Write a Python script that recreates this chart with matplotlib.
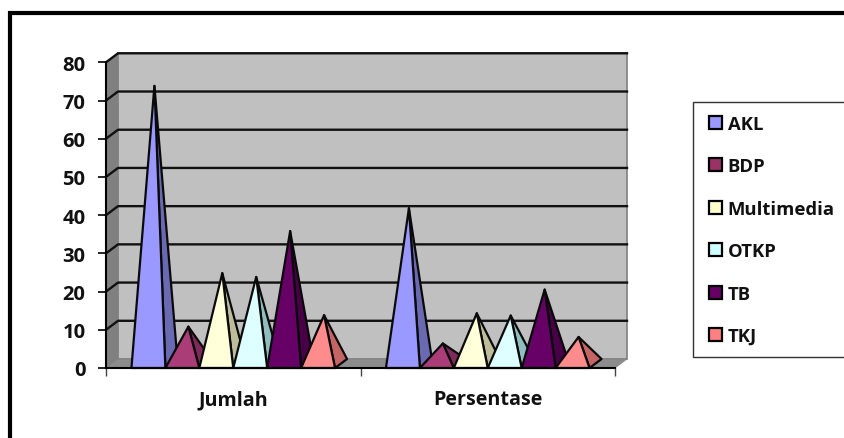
import matplotlib
matplotlib.use("Agg")
import matplotlib.pyplot as plt
from matplotlib.patches import Polygon, Rectangle

categories = ["Jumlah", "Persentase"]
series_names = ["AKL", "BDP", "Multimedia", "OTKP", "TB", "TKJ"]
akl = [73, 41.0]
bdp = [10, 5.6]
multimedia = [24, 13.5]
otkp = [23, 12.9]
tb = [35, 19.7]
tkj = [13, 7.3]
series_values = [akl, bdp, multimedia, otkp, tb, tkj]
front_colors = ["#9999FF", "#AA3D78", "#FFFFD9", "#DDFFFF", "#660066", "#FF8C8C"]
side_colors = ["#6A6AB2", "#7F2A5A", "#BDBD9C", "#90BDBD", "#470047", "#C46464"]
legend_colors = ["#9999FF", "#993366", "#FFFFCC", "#CCFFFF", "#660066", "#FF8080"]
yticks = [0, 10, 20, 30, 40, 50, 60, 70, 80]

W, H = 845, 439
FONT = ["Open Sans", "DejaVu Sans"]
fig = plt.figure(figsize=(W / 100, H / 100), dpi=100, facecolor="white")

# page frame (left and top heavy border)
bg = fig.add_axes([0, 0, 1, 1])
bg.set_xlim(0, W); bg.set_ylim(H, 0); bg.axis("off")
bg.plot([10, 10, W], [H, 14, 14], color="black", lw=3, solid_joinstyle="miter")

# front plane of the 3-D box
x0, x1, y_top, y_bot = 106, 615, 63.3, 369
ax = fig.add_axes([x0 / W, 1 - y_bot / H, (x1 - x0) / W, (y_bot - y_top) / H])
ax.set_xlim(0, 2); ax.set_ylim(0, 80)
ax.patch.set_alpha(0)
dx = 12 / ((x1 - x0) / 2)
dy = 9 / ((y_bot - y_top) / 80)
clip = dict(clip_on=False)

# walls
ax.add_patch(Rectangle((dx, dy), 2, 80, fc="#C0C0C0", ec="#808080", lw=1.2, zorder=1, **clip))
ax.add_patch(Polygon([(0, 0), (dx, dy), (dx, 80 + dy), (0, 80)], fc="#808080", ec="#808080", lw=0.5, zorder=1, **clip))
ax.add_patch(Polygon([(0, 0), (2, 0), (2 + dx, dy), (dx, dy)], fc="#8C8C8C", ec="#808080", lw=0.5, zorder=1, **clip))
for v in yticks[1:]:
    ax.plot([0, dx, 2 + dx], [v, v + dy, v + dy], color="#111111", lw=1.7, zorder=2, **clip)

# pyramids
bw = 0.8 / 6
for c in range(len(categories)):
    for s, vals in enumerate(series_values):
        xl = c + 0.1 + s * bw
        xr = xl + bw
        v = vals[c]
        apex = ((xl + xr + dx) / 2, v + dy * 0.35)
        z = 3 + c * 10 + s
        ax.add_patch(Polygon([(xr, 0), (xr + dx, dy), apex], fc=side_colors[s], ec="#0a0a0a", lw=1.6, joinstyle="round", zorder=z, **clip))
        ax.add_patch(Polygon([(xl, 0), (xr, 0), apex], fc=front_colors[s], ec="#0a0a0a", lw=1.6, joinstyle="round", zorder=z + 0.5, **clip))

# axes and ticks
for sp in ["top", "right"]:
    ax.spines[sp].set_visible(False)
for sp in ["left", "bottom"]:
    ax.spines[sp].set_linewidth(1.5)
    ax.spines[sp].set_zorder(30)
ax.set_yticks(yticks)
ax.set_xticks([0, 1, 2])
ax.set_xticklabels([])
ax.tick_params(axis="y", length=5.8, width=1.2, pad=9, labelsize=14.5)
ax.tick_params(axis="x", length=5.8, width=1, color="#444444")
for t in ax.get_yticklabels():
    t.set_fontfamily(FONT); t.set_fontweight("bold"); t.set_color("#111111")
for i, name in enumerate(categories):
    ax.annotate(name, (i + 0.5, 0), xytext=(0, -31), textcoords="offset pixels",
                ha="center", va="center", fontsize=14.2, fontweight="bold", family=FONT, color="#111111")

# legend box
bg.add_patch(Rectangle((693, 103), 153, 255, fc="white", ec="#333333", lw=1))
handles = [Rectangle((0, 0), 1, 1, fc=c, ec="black", lw=1.6) for c in legend_colors]
fig.legend(handles, series_names, loc="center left", bbox_to_anchor=(709 / W, 1 - 231 / H),
           frameon=False, ncol=1, handlelength=0.7, handleheight=0.7, handletextpad=0.32,
           labelspacing=1.32, borderpad=0, borderaxespad=0,
           prop={"family": FONT, "weight": "bold", "size": 13.3}, labelcolor="#111111")

fig.savefig("out.png", dpi=100, facecolor="white")
